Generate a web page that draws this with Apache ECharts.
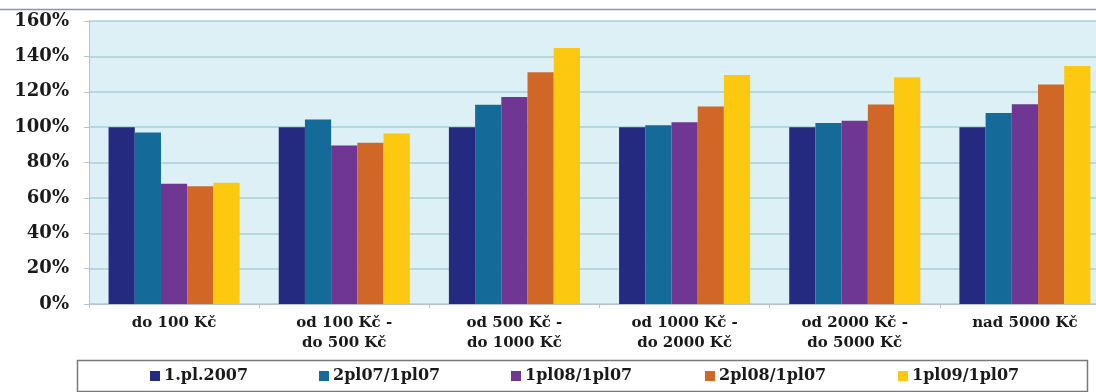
<!DOCTYPE html>
<html>
<head>
<meta charset="utf-8">
<script src="https://cdn.jsdelivr.net/npm/echarts@6/dist/echarts.min.js"></script>
<style>
html,body{margin:0;padding:0;background:#fff;}
#chart{width:1096px;height:392px;}
</style>
</head>
<body>
<div id="chart"></div>
<script>
const categories = ['do 100 Kč', 'od 100 Kč -\ndo 500 Kč', 'od 500 Kč -\ndo 1000 Kč', 'od 1000 Kč -\ndo 2000 Kč', 'od 2000 Kč -\ndo 5000 Kč', 'nad 5000 Kč'];
const seriesNames = ['1.pl.2007', '2pl07/1pl07', '1pl08/1pl07', '2pl08/1pl07', '1pl09/1pl07'];
const s1 = [100, 100, 100, 100, 100, 100];
const s2 = [97, 104.3, 112.6, 101, 102.4, 108];
const s3 = [68, 89.6, 117.1, 102.7, 103.6, 113];
const s4 = [66.6, 91.1, 131, 111.7, 112.8, 124.1];
const s5 = [68.5, 96.4, 144.8, 129.4, 128.2, 134.6];
const yTicks = [0, 20, 40, 60, 80, 100, 120, 140, 160];

const colors = ['#232a80', '#146b9a', '#6f3694', '#d06727', '#fcc810'];
const values = [s1, s2, s3, s4, s5];
const legendX = [150, 319, 511, 705, 898];
const font = 'DejaVu Serif';

const chart = echarts.init(document.getElementById('chart'));
chart.setOption({
  animation: false,
  backgroundColor: '#ffffff',
  graphic: [
    { type: 'line', shape: { x1: 0, y1: 9.5, x2: 1096, y2: 9.5 }, style: { stroke: '#8a8fc9', lineWidth: 1.5 } },
    { type: 'rect', shape: { x: 77.5, y: 360.5, width: 1010, height: 31 }, style: { fill: 'none', stroke: '#7a7a7a', lineWidth: 1.5 } }
  ],
  grid: { left: 89, width: 1021, top: 21, height: 283, show: true, backgroundColor: '#dcf0f5', borderWidth: 0, containLabel: false, outerBoundsMode: 'none' },
  legend: seriesNames.map((n, i) => ({
    data: [n], left: legendX[i], top: 368, itemWidth: 10, itemHeight: 10, itemGap: 5, padding: 0, icon: 'rect',
    textStyle: { fontFamily: font, fontWeight: 'bold', fontSize: 16, color: '#1a1a1a', padding: [0, 0, 0, -1] }
  })),
  xAxis: {
    type: 'category', data: categories,
    axisLine: { show: true, lineStyle: { color: '#b8c4cc' } },
    axisTick: { show: true, length: 4, lineStyle: { color: '#b8c4cc' } },
    axisLabel: { fontFamily: font, fontWeight: 'bold', fontSize: 15, color: '#1a1a1a', lineHeight: 20, margin: 9 }
  },
  yAxis: {
    type: 'value', min: 0, max: 160, interval: 20,
    axisLine: { show: true, lineStyle: { color: '#b8c4cc' } },
    axisTick: { show: true, length: 5, lineStyle: { color: '#b8c4cc' } },
    splitLine: { lineStyle: { color: '#a6d0d8', width: 1.5 } },
    axisLabel: { fontFamily: font, fontWeight: 'bold', fontSize: 18, color: '#1a1a1a', margin: 20, formatter: v => v + '%' }
  },
  series: seriesNames.map((n, i) => ({
    name: n, type: 'bar', data: values[i], barGap: '0%', barCategoryGap: '23%',
    itemStyle: { color: colors[i] }
  }))
});
</script>
</body>
</html>
